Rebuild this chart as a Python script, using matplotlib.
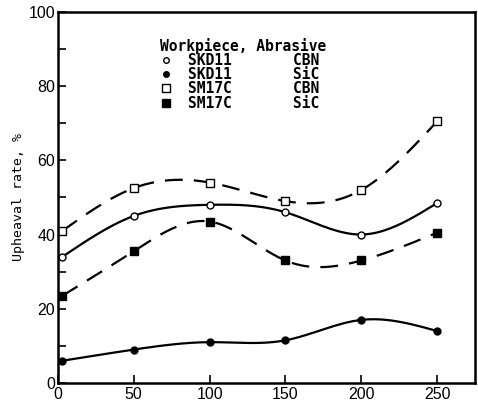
import numpy as np
import matplotlib
matplotlib.use("Agg")
import matplotlib.pyplot as plt
from matplotlib.lines import Line2D

# data
x = [3, 50, 100, 150, 200, 250]
skd11_cbn = [34, 45, 48, 46, 40, 48.5]
skd11_sic = [6, 9, 11, 11.5, 17, 14]
sm17c_cbn = [41, 52.5, 54, 49, 52, 70.5]
sm17c_sic = [23.5, 35.5, 43.5, 33, 33, 40.5]

labels = ["SKD11       CBN", "SKD11       SiC", "SM17C       CBN", "SM17C       SiC"]


# natural cubic spline through the measured points (for the smooth curves)
def spline(xs, ys, n=200):
    xs = np.asarray(xs, float)
    ys = np.asarray(ys, float)
    k = len(xs)
    h = np.diff(xs)
    A = np.zeros((k, k))
    b = np.zeros(k)
    A[0, 0] = A[-1, -1] = 1
    for i in range(1, k - 1):
        A[i, i - 1] = h[i - 1]
        A[i, i] = 2 * (h[i - 1] + h[i])
        A[i, i + 1] = h[i]
        b[i] = 6 * ((ys[i + 1] - ys[i]) / h[i] - (ys[i] - ys[i - 1]) / h[i - 1])
    m = np.linalg.solve(A, b)
    xx = np.linspace(xs[0], xs[-1], n)
    idx = np.clip(np.searchsorted(xs, xx) - 1, 0, k - 2)
    t = xx - xs[idx]
    hi = h[idx]
    a = (m[idx + 1] - m[idx]) / (6 * hi)
    bb = m[idx] / 2
    c = (ys[idx + 1] - ys[idx]) / hi - hi * (2 * m[idx] + m[idx + 1]) / 6
    yy = ys[idx] + c * t + bb * t ** 2 + a * t ** 3
    return xx, yy


fig = plt.figure(figsize=(4.78, 4.07), dpi=100)
ax = fig.add_axes([0.121, 0.059, 0.873, 0.912])

dash = (0, (8, 5))
series = [
    (skd11_cbn, "o", "white", "-"),
    (skd11_sic, "o", "black", "-"),
    (sm17c_cbn, "s", "white", dash),
    (sm17c_sic, "s", "black", dash),
]
for ys, mk, fc, ls in series:
    xx, yy = spline(x, ys)
    ax.plot(xx, yy, color="black", lw=1.6, linestyle=ls)
    ax.plot(x, ys, linestyle="none", marker=mk, ms=5 if mk == "o" else 6,
            mfc=fc, mec="black", mew=1)

handles = [Line2D([], [], linestyle="none", marker=mk, ms=4 if mk == "o" else 5.5,
                  mfc=fc, mec="black", mew=1) for _, mk, fc, _ in series]
mono = {"family": "DejaVu Sans Mono", "weight": "bold", "size": 10.5}
leg = ax.legend(handles, labels, title="Workpiece, Abrasive", loc="upper left",
                bbox_to_anchor=(0.22, 0.958), frameon=False, handlelength=0.8,
                handletextpad=1.1, labelspacing=-0.05, borderpad=0.2,
                prop=mono)
leg.get_title().set_fontproperties(mono)
leg._legend_box.align = "left"

ax.set_xlim(0, 275)
ax.set_ylim(0, 100)
ax.set_xticks([0, 50, 100, 150, 200, 250])
ax.set_yticks([0, 20, 40, 60, 80, 100])
ax.set_yticks(np.arange(10, 100, 20), minor=True)
ax.tick_params(direction="in", length=6, width=1.2, labelsize=11.5, pad=3)
ax.tick_params(axis="y", pad=2)
ax.tick_params(which="minor", direction="in", length=6, width=1.2)
for lab in ax.get_xticklabels() + ax.get_yticklabels():
    lab.set_family("Liberation Sans")
for s in ax.spines.values():
    s.set_linewidth(1.8)

ax.set_ylabel("Upheaval rate, %", family="DejaVu Sans Mono", fontsize=9.5)
ax.yaxis.set_label_coords(-0.079, 0.5)

fig.savefig("out.png", dpi=100)
